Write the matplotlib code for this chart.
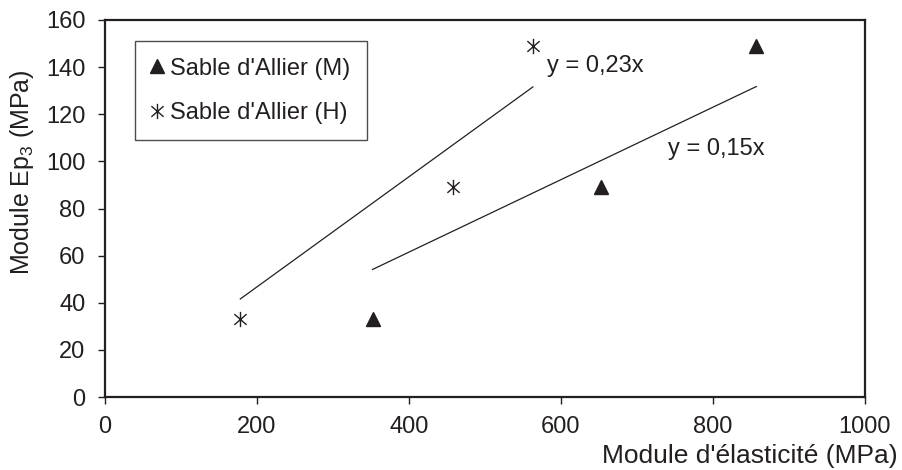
import numpy as np
import matplotlib
matplotlib.use("Agg")
import matplotlib.pyplot as plt
from matplotlib.path import Path

plt.rcParams['font.family'] = ['Liberation Sans', 'DejaVu Sans']
plt.rcParams['mathtext.fontset'] = 'custom'
plt.rcParams['mathtext.rm'] = 'Liberation Sans'

# Data
series_names = ["Sable d'Allier (M)", "Sable d'Allier (H)"]
x_M = [352, 652, 857]
y_M = [33, 89, 149]
x_H = [178, 458, 563]
y_H = [33, 89, 149]
eq_labels = ["y = 0,15x", "y = 0,23x"]
xticks = [0, 200, 400, 600, 800, 1000]
yticks = [0, 20, 40, 60, 80, 100, 120, 140, 160]

INK = '#231f20'
FS = 17

fig = plt.figure(figsize=(9.02, 4.70), dpi=100)
ax = fig.add_axes([105/902, 1-397/470, (865-105)/902, (397-20)/470])

# asterisk marker (X + vertical bar)
verts = [(0, -1), (0, 1), (-0.8, -0.7), (0.8, 0.7), (-0.8, 0.7), (0.8, -0.7)]
codes = [Path.MOVETO, Path.LINETO] * 3
star = Path(verts, codes)

def fit0(x, y):
    x = np.asarray(x, float); y = np.asarray(y, float)
    return (x @ y) / (x @ x)

for xs, ys in [(x_M, y_M), (x_H, y_H)]:
    k = fit0(xs, ys)
    xl = np.array([min(xs), max(xs)], float)
    ax.plot(xl, k * xl, color=INK, lw=0.9, zorder=2)

ax.plot(x_M, y_M, linestyle='none', marker='^', ms=9.5, color=INK, mec=INK,
        label=series_names[0], zorder=3)
ax.plot(x_H, y_H, linestyle='none', marker=star, ms=11, color=INK, mew=1.0,
        mfc='none', label=series_names[1], zorder=3)

ax.text(582, 138, eq_labels[1], fontsize=FS, color=INK, ha='left', va='baseline')
ax.text(741, 102.7, eq_labels[0], fontsize=FS, color=INK, ha='left', va='baseline')

ax.set_xlim(0, 1000)
ax.set_ylim(0, 160)
ax.set_xticks(xticks)
ax.set_yticks(yticks)
ax.tick_params(direction='out', length=5, width=1.0, color=INK, labelcolor=INK,
               labelsize=FS)
ax.tick_params(axis='y', pad=9)
ax.tick_params(axis='x', pad=9)
for s in ax.spines.values():
    s.set_color(INK)
    s.set_linewidth(1.6)

fig.text(22/902, 1-172/470, "Module Ep$_3$ (MPa)", fontsize=18, color=INK,
         rotation=90, ha='center', va='center')
fig.text(898/902, 1-463/470, "Module d'élasticité (MPa)", fontsize=19,
         color=INK, ha='right', va='baseline')

leg = ax.legend(loc='upper left', bbox_to_anchor=((135-105)/760, (397-41)/377),
                frameon=True, fancybox=False, edgecolor=INK, fontsize=FS,
                handlelength=0.5, handletextpad=0.3, borderpad=0.7,
                labelspacing=0.95, borderaxespad=0)
leg.get_frame().set_linewidth(1.0)
for t in leg.get_texts():
    t.set_color(INK)

fig.savefig("out.png", dpi=100)
